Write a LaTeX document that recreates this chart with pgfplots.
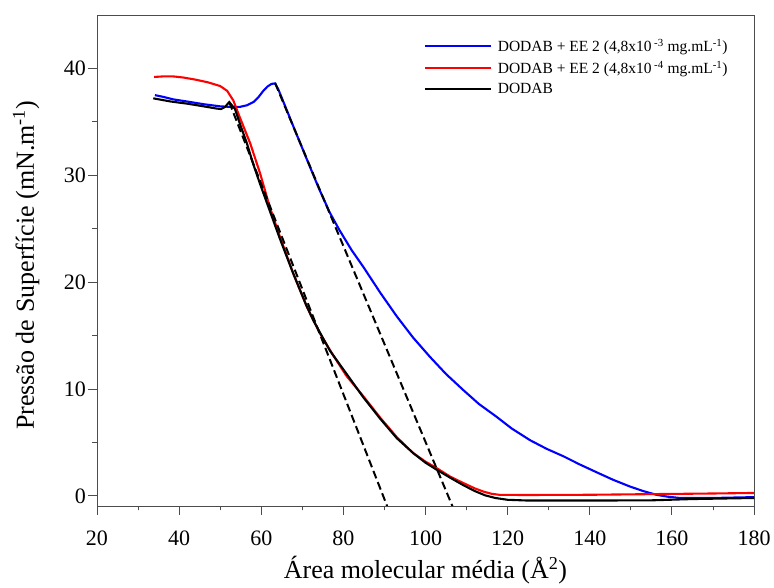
\documentclass[border=0pt]{standalone}
\usepackage{fontspec}
\setmainfont{Liberation Serif}
\usepackage{pgfplots}
\pgfplotsset{compat=1.18}
\begin{document}
\begin{tikzpicture}
\begin{axis}[
  scale only axis,
  width=657pt, height=491pt,
  xmin=20, xmax=180, ymin=-0.95, ymax=45,
  xtick={20,40,...,180}, ytick={0,10,...,40},
  minor x tick num=1, minor y tick num=1,
  tick align=outside,
  xtick pos=lower, ytick pos=left,
  major tick length=9pt, minor tick length=4.5pt,
  axis line style={black!70, line width=0.8pt},
  every tick/.style={black!70, line width=0.8pt},
  /pgf/number format/assume math mode=true,
  ticklabel style={font=\fontsize{22}{26}\selectfont},
  yticklabel style={inner sep=2pt},
  xticklabel style={inner sep=2pt, yshift=-14pt},
  xlabel={Área molecular média (Å\textsuperscript{2})},
  ylabel={Pressão de Superfície (mN.m\textsuperscript{-1})},
  label style={font=\fontsize{26}{30}\selectfont},
  xlabel style={at={(axis description cs:0.5,-0.130)}, anchor=center},
  ylabel style={at={(axis description cs:-0.108,0.49)}, anchor=center},
  legend style={draw=none, fill=none, at={(axis description cs:0.497,0.955)},
    anchor=north west, font=\fontsize{15.5}{18}\selectfont, row sep=4pt, inner sep=0pt,
    /tikz/every odd column/.append style={column sep=4pt}},
  legend cell align=left,
  legend image code/.code={\draw[#1] (0pt,0pt) -- (66pt,0pt);},
  every axis plot/.append style={line width=2.1pt},
]

% DODAB + EE 2 (4,8x10^-3)
\addplot[blue] coordinates {
  (34.1,37.5) (36,37.35) (38.6,37.1) (42,36.9) (46,36.65) (50,36.45) (52.4,36.4)
  (54.8,36.4) (56.5,36.55) (58.1,36.85) (59.3,37.3) (60.5,37.9) (61.5,38.3)
  (62.5,38.55) (63.4,38.6) (64.2,38.0) (66,36.3) (68,34.4) (71.1,31.5) (74,28.8)
  (76.7,26.5) (79,24.9) (82,23.0) (84.9,21.4) (89,19.0) (93,16.8) (97,14.8)
  (101.1,13.0) (105,11.4) (109.2,9.9) (113,8.6) (117.3,7.4) (121,6.3) (125.5,5.2)
  (129.5,4.4) (133.6,3.7) (137.5,2.95) (141.7,2.2) (145.7,1.5) (149.8,0.87)
  (153,0.45) (156.3,0.09) (159,-0.08) (162,-0.2) (170,-0.2) (180,-0.12)
};
\addlegendentry{DODAB + EE 2 (4,8x10\,\textsuperscript{-3} mg.mL\textsuperscript{-1})}

% DODAB + EE 2 (4,8x10^-4)
\addplot[red] coordinates {
  (33.9,39.2) (36,39.25) (38.6,39.25) (41,39.15) (44,38.95) (47,38.7) (50,38.35)
  (51.7,37.9) (53.2,37.0) (54.8,35.4) (57.3,33.0) (59.7,30.2) (62.1,27.0)
  (64.6,24.2) (67.8,20.8) (71.1,17.7) (74.3,15.2) (77.6,13.1) (80.8,11.2)
  (84.9,9.3) (89,7.3) (93,5.5) (97,4.0) (100,3.2) (102.7,2.6) (106,1.8)
  (109.2,1.2) (112,0.7) (114.1,0.4) (116,0.2) (118.1,0.09) (125,0.08) (140,0.1)
  (160,0.18) (170,0.22) (180,0.27)
};
\addlegendentry{DODAB + EE 2 (4,8x10\,\textsuperscript{-4} mg.mL\textsuperscript{-1})}

% DODAB
\addplot[black] coordinates {
  (33.7,37.2) (38,36.9) (42,36.7) (46,36.45) (49,36.25) (50.2,36.2) (51.2,36.4)
  (52.2,36.85) (53.6,36.2) (55,34.6) (56.5,33.0) (58,31.1) (59.7,29.2) (61.3,27.5)
  (62.9,25.8) (64.5,24.1) (66.2,22.4) (67.8,20.8) (69.4,19.3) (71,17.8) (72.7,16.4)
  (74.7,15.0) (76.7,13.6) (80.8,11.4) (84.9,9.2) (89,7.2) (93,5.4) (97,4.0)
  (100,3.1) (102.7,2.45) (106,1.7) (109.2,1.0) (112,0.45) (114.5,0.05) (117,-0.2)
  (120,-0.37) (125,-0.44) (140,-0.44) (155,-0.42) (165,-0.3) (180,-0.2)
};
\addlegendentry{DODAB}

% tangents
\addplot[black, line width=2pt, dash pattern=on 8pt off 4pt, forget plot] coordinates {
  (52.2,36.85) (90.7,-1.0)
};
\addplot[black, line width=2pt, dash pattern=on 8pt off 4pt, forget plot] coordinates {
  (63.4,38.6) (106.6,-1.0)
};
\end{axis}
\pgfresetboundingbox
\path (current axis.south west) ++(-97pt,-82pt) rectangle ++(774pt,588pt);
\end{tikzpicture}
\end{document}
